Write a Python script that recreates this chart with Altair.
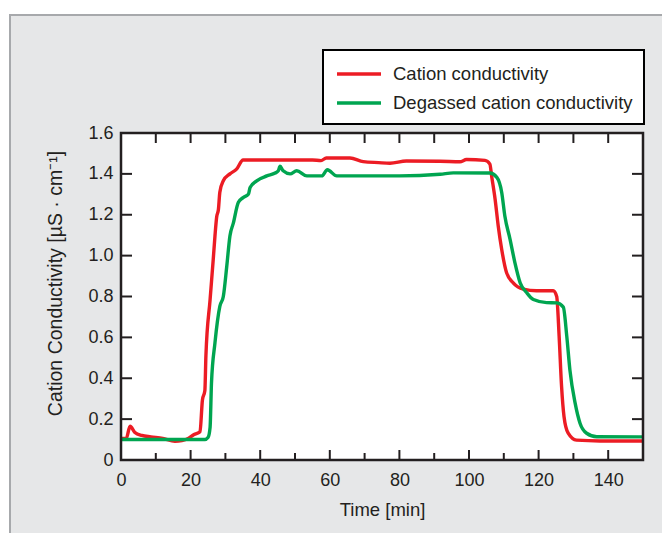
import altair as alt
import pandas as pd

# ---- data ----
t_red = [0, 1.5, 2.6, 4, 6, 8.6, 12, 15.5, 17.5, 19.3, 21, 22.7, 23.4, 24.1, 24.4,
         25.6, 26.5, 27, 27.5, 28, 28.4, 29.4, 31.3, 33.2, 35.1, 45, 55, 57.5, 59,
         65.8, 69.6, 74, 77.3, 82, 91.7, 97.4, 99.3, 104.6, 106, 106.5, 107.5, 108.4,
         109.4, 110.8, 112.7, 115.6, 119.4, 124.2, 125.2, 125.9, 126.6, 127.3, 128.5,
         130.9, 137.6, 150]
v_red = [0.105, 0.105, 0.165, 0.135, 0.12, 0.113, 0.105, 0.092, 0.095, 0.105, 0.125,
         0.138, 0.294, 0.34, 0.51, 0.785, 0.98, 1.096, 1.19, 1.227, 1.31, 1.366, 1.40,
         1.423, 1.468, 1.468, 1.468, 1.465, 1.478, 1.478, 1.46, 1.455, 1.452, 1.463,
         1.462, 1.459, 1.47, 1.466, 1.448, 1.39, 1.276, 1.145, 1.03, 0.916, 0.867,
         0.836, 0.828, 0.828, 0.80, 0.605, 0.36, 0.213, 0.131, 0.097, 0.093, 0.093]

t_green = [0, 24.1, 25, 25.6, 26, 27, 28.4, 29.4, 30.4, 31.3, 32.3, 33.7, 35.1, 36.6,
           37.1, 39, 41.9, 44.3, 45.2, 45.7, 46.6, 48.6, 50.5, 53.4, 57.7, 59.3, 62,
           80, 91.7, 95.5, 106, 108, 109.4, 110.3, 111.8, 113.2, 114.7, 116.6, 118.5,
           122.3, 125.2, 127.1, 128.1, 129, 130.5, 131.9, 133.8, 136.7, 150]
v_green = [0.1, 0.1, 0.11, 0.16, 0.376, 0.573, 0.752, 0.80, 0.949, 1.096, 1.16, 1.26,
           1.284, 1.30, 1.333, 1.366, 1.39, 1.404, 1.415, 1.437, 1.415, 1.40, 1.415,
           1.39, 1.39, 1.42, 1.39, 1.39, 1.398, 1.405, 1.404, 1.383, 1.309, 1.194,
           1.08, 0.965, 0.867, 0.818, 0.785, 0.77, 0.769, 0.748, 0.605, 0.44, 0.278,
           0.18, 0.131, 0.114, 0.113]

series_names = ["Cation conductivity", "Degassed cation conductivity"]
series_colors = ["#ec1c24", "#00a550"]

x_label_values = [0, 20, 40, 60, 80, 100, 120, 140]
x_minor_values = [10, 30, 50, 70, 90, 110, 130]
x_top_values = [10, 20, 30, 40, 50, 60, 70, 80, 90, 100, 110, 120, 130, 140]
y_values = [0, 0.2, 0.4, 0.6, 0.8, 1.0, 1.2, 1.4, 1.6]

x_title = "Time [min]"
y_title = "Cation Conductivity [µS · cm⁻¹]"

# ---- layout ----
W, H = 522, 327
PAD = {"left": 121, "top": 133, "right": 19, "bottom": 73}
FONT = "Liberation Sans"
TXT = "#231f20"

df = pd.concat([
    pd.DataFrame({"t": t_red, "v": v_red, "s": series_names[0]}),
    pd.DataFrame({"t": t_green, "v": v_green, "s": series_names[1]}),
])

xs = alt.Scale(domain=[0, 150], nice=False, zero=False)
ys = alt.Scale(domain=[0, 1.6], nice=False)

one = pd.DataFrame({"k": [0]})

bg = alt.Chart(one).mark_rect(fill="#e6e7e8", stroke="#a7a9ac", strokeWidth=2).encode(
    x=alt.value(-111), x2=alt.value(W + 60), y=alt.value(-118), y2=alt.value(H + 100))
plot_bg = alt.Chart(one).mark_rect(fill="white").encode(
    x=alt.value(0), x2=alt.value(W), y=alt.value(0), y2=alt.value(H))

lines = alt.Chart(df).mark_line(strokeWidth=3.4, interpolate="monotone").encode(
    x=alt.X("t:Q", scale=xs, axis=alt.Axis(
        values=x_label_values, title=x_title, labelPadding=11, titlePadding=11,
        labelFlush=False, zindex=2)),
    y=alt.Y("v:Q", scale=ys, axis=alt.Axis(
        values=y_values, title=y_title, labelPadding=8, titlePadding=22, zindex=2,
        titleFontSize=19.5, titleY=150,
        labelExpr="datum.value == 0 ? '0' : format(datum.value, '.1f')")),
    color=alt.Color("s:N", scale=alt.Scale(domain=series_names, range=series_colors),
                    legend=alt.Legend(title=None, orient="none", legendX=202, legendY=-83,
                                      fillColor="white", strokeColor="black", padding=11,
                                      symbolType="M-2,0H2", symbolSize=484,
                                      symbolOffset=12,
                                      symbolStrokeWidth=3.5, labelFontSize=18.5,
                                      labelFont=FONT, labelColor=TXT, labelOffset=21,
                                      labelLimit=500, rowPadding=6)),
    detail="s:N",
    order="t:Q",
)

bot_major = alt.Chart(pd.DataFrame({"t": x_label_values})).mark_rule(color=TXT, strokeWidth=2).encode(
    x=alt.X("t:Q", scale=xs), y=alt.value(H), y2=alt.value(H - 10))
bot_minor = alt.Chart(pd.DataFrame({"t": x_minor_values})).mark_rule(color=TXT, strokeWidth=2).encode(
    x=alt.X("t:Q", scale=xs), y=alt.value(H), y2=alt.value(H - 7))
top_ticks = alt.Chart(pd.DataFrame({"t": x_top_values})).mark_rule(color=TXT, strokeWidth=2).encode(
    x=alt.X("t:Q", scale=xs), y=alt.value(0), y2=alt.value(10))
left_ticks = alt.Chart(pd.DataFrame({"v": y_values})).mark_rule(color=TXT, strokeWidth=2).encode(
    y=alt.Y("v:Q", scale=ys), x=alt.value(0), x2=alt.value(11))
right_ticks = alt.Chart(pd.DataFrame({"v": y_values})).mark_rule(color=TXT, strokeWidth=2).encode(
    y=alt.Y("v:Q", scale=ys), x=alt.value(W), x2=alt.value(W - 11))
frame = alt.Chart(one).mark_rect(fill="white", fillOpacity=0, stroke=TXT, strokeWidth=2.5).encode(
    x=alt.value(0), x2=alt.value(W), y=alt.value(0), y2=alt.value(H))

chart = alt.layer(bg, plot_bg, lines, bot_major, bot_minor, top_ticks, left_ticks,
                  right_ticks, frame).properties(
    width=W, height=H, padding=PAD, autosize=alt.AutoSizeParams(type="none"),
    background="white",
).configure_view(stroke=None).configure_axis(
    ticks=False, domain=False, grid=False, labelFont=FONT, labelFontSize=18,
    labelColor=TXT, titleFont=FONT, titleFontSize=18.5, titleFontWeight="normal",
    titleColor=TXT,
).configure_legend(strokeWidth=2)

chart.save("out.html", embed_options={"renderer": "svg", "actions": False})
